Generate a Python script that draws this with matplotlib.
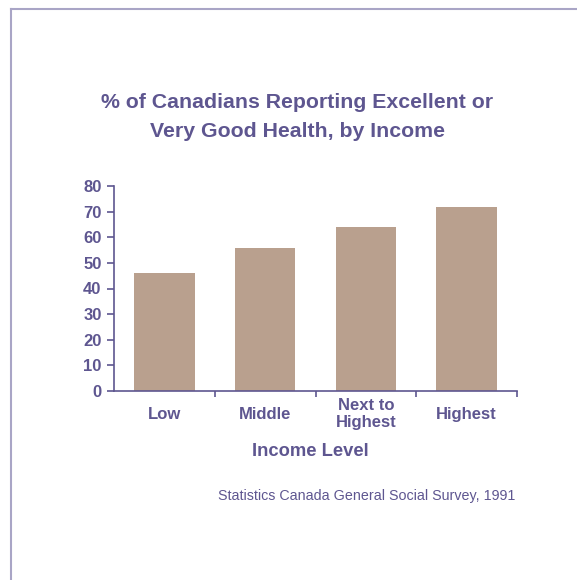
import matplotlib
matplotlib.use("Agg")
import matplotlib.pyplot as plt
from matplotlib.lines import Line2D

# data
categories = ["Low", "Middle", "Next to\nHighest", "Highest"]
values = [46, 56, 64, 72]
yticks = [0, 10, 20, 30, 40, 50, 60, 70, 80]

plt.rcParams["font.family"] = ["Liberation Sans", "DejaVu Sans"]

text_col = "#5e5690"
bar_col = "#b9a08e"
frame_col = "#a9a5c6"

W, H = 577, 580
fig = plt.figure(figsize=(W / 100, H / 100), dpi=100)

# frame lines (top and left)
fig.add_artist(Line2D([11 / W, 1], [1 - 9 / H, 1 - 9 / H], color=frame_col, lw=1.5))
fig.add_artist(Line2D([11 / W, 11 / W], [0, 1 - 9 / H], color=frame_col, lw=1.5))

ax = fig.add_axes([114 / W, 1 - 391 / H, (517 - 114) / W, (391 - 186) / H])
x = range(len(values))
ax.bar(x, values, width=0.6, color=bar_col)
ax.set_xlim(-0.5, len(values) - 0.5)
ax.set_ylim(0, 80)

for s in ["top", "right"]:
    ax.spines[s].set_visible(False)
for s in ["left", "bottom"]:
    ax.spines[s].set_color(text_col)
    ax.spines[s].set_linewidth(1.2)

ax.set_yticks(yticks)
ax.set_yticklabels([str(v) for v in yticks], fontsize=12, fontweight="bold", color=text_col)
ax.tick_params(axis="y", direction="out", length=5, width=1.2, color=text_col, pad=4)

# x ticks at category boundaries
ax.set_xticks([i + 0.5 for i in range(len(values))])
ax.set_xticklabels([])
ax.tick_params(axis="x", direction="out", length=4, width=1.2, color=text_col)
for i, c in enumerate(categories):
    ax.text(i, -9.0, c, ha="center", va="center", fontsize=12, fontweight="bold",
            color=text_col, linespacing=1.2)

fig.text(297 / W, 1 - 117 / H,
         "% of Canadians Reporting Excellent or\nVery Good Health, by Income",
         ha="center", va="center", fontsize=15.3, fontweight="bold", color=text_col,
         linespacing=1.65)
fig.text(310 / W, 1 - 451 / H, "Income Level", ha="center", va="center",
         fontsize=13.2, fontweight="bold", color=text_col)
fig.text(367 / W, 1 - 496 / H, "Statistics Canada General Social Survey, 1991",
         ha="center", va="center", fontsize=10.3, color=text_col)

fig.savefig("out.png", dpi=100)
